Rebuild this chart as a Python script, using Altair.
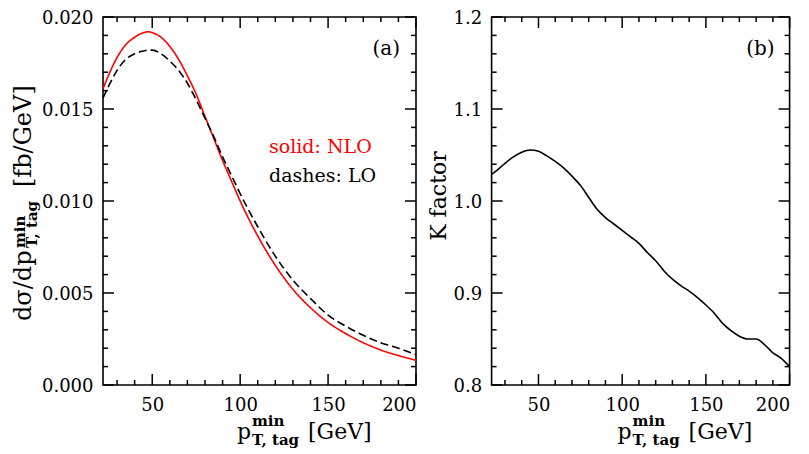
import altair as alt
import pandas as pd

# ---------------- data ----------------
pt = [22, 25, 30, 35, 40, 45, 48, 50, 55, 60, 65, 70, 75, 80, 85, 90, 95, 100,
      110, 120, 130, 140, 150, 160, 170, 180, 190, 200]
nlo = [0.0161, 0.0168, 0.0178, 0.0185, 0.0189, 0.01915, 0.0192, 0.01915, 0.0189,
       0.0184, 0.0177, 0.0168, 0.0158, 0.0146, 0.0134, 0.0122, 0.0111, 0.0100,
       0.0081, 0.0065, 0.0052, 0.0042, 0.0034, 0.0028, 0.0023, 0.0019, 0.0016, 0.00135]
lo = [0.0156, 0.0162, 0.0171, 0.0177, 0.0180, 0.01815, 0.0182, 0.0182, 0.0180,
      0.0176, 0.0171, 0.0164, 0.0155, 0.0145, 0.0135, 0.0124, 0.0114, 0.0104,
      0.0086, 0.0070, 0.0057, 0.0047, 0.0038, 0.0032, 0.0027, 0.0023, 0.0020, 0.00165]

k_pt = [22, 25, 30, 35, 40, 45, 50, 55, 60, 65, 70, 75, 80, 85, 90, 95, 100, 105,
        110, 115, 120, 125, 130, 135, 140, 145, 150, 155, 160, 165, 170, 175, 180,
        185, 190, 195, 200]
k_val = [1.029, 1.033, 1.041, 1.048, 1.053, 1.0555, 1.054, 1.049, 1.043, 1.036,
         1.027, 1.017, 1.004, 0.991, 0.982, 0.975, 0.968, 0.961, 0.954, 0.944,
         0.935, 0.924, 0.915, 0.908, 0.902, 0.895, 0.887, 0.878, 0.867, 0.859,
         0.853, 0.850, 0.850, 0.844, 0.835, 0.829, 0.820]

x_major = [50, 100, 150, 200]
x_minor = [30, 40, 60, 70, 80, 90, 110, 120, 130, 140, 160, 170, 180, 190]
ya_major = [0.0, 0.005, 0.010, 0.015, 0.020]
ya_minor = [0.001, 0.002, 0.003, 0.004, 0.006, 0.007, 0.008, 0.009,
            0.011, 0.012, 0.013, 0.014, 0.016, 0.017, 0.018, 0.019]
yb_major = [0.8, 0.9, 1.0, 1.1, 1.2]
yb_minor = [0.82, 0.84, 0.86, 0.88, 0.92, 0.94, 0.96, 0.98,
            1.02, 1.04, 1.06, 1.08, 1.12, 1.14, 1.16, 1.18]

series_names = ["solid: NLO", "dashes: LO"]

FONT = "DejaVu Serif"
H = 368
WA = 313
WB = 298
MAJ = 11
MIN = 5
TW = 1.5

df_a = pd.DataFrame({
    "x": pt * 2,
    "y": nlo + lo,
    "s": ["NLO"] * len(pt) + ["LO"] * len(pt),
})
df_b = pd.DataFrame({"x": k_pt, "y": k_val})

xaxis = alt.Axis(values=x_major, format="d", title=None, ticks=False,
                 domain=False, grid=False, labelFont=FONT, labelFontSize=18,
                 labelPadding=11, labelColor="black")


def yaxis(vals, fmt):
    return alt.Axis(values=vals, format=fmt, title=None, ticks=False,
                    domain=False, grid=False, labelFont=FONT, labelFontSize=18,
                    labelPadding=10, labelColor="black",
                    labelBaseline="alphabetic", labelOffset=6.5)


def ticks(xscale, yscale, yax, ymaj, ymin, W):
    layers = []
    for vals, L in ((x_major, MAJ), (x_minor, MIN)):
        d = pd.DataFrame({"x": vals})
        base = alt.Chart(d).mark_rule(color="black", strokeWidth=TW)
        layers.append(base.encode(x=alt.X("x:Q", scale=xscale, axis=xaxis),
                                  y=alt.value(H), y2=alt.value(H - L)))
        layers.append(base.encode(x=alt.X("x:Q", scale=xscale, axis=xaxis),
                                  y=alt.value(0), y2=alt.value(L)))
    for vals, L in ((ymaj, MAJ), (ymin, MIN)):
        d = pd.DataFrame({"y": vals})
        base = alt.Chart(d).mark_rule(color="black", strokeWidth=TW)
        layers.append(base.encode(y=alt.Y("y:Q", scale=yscale, axis=yax),
                                  x=alt.value(0), x2=alt.value(L)))
        layers.append(base.encode(y=alt.Y("y:Q", scale=yscale, axis=yax),
                                  x=alt.value(W), x2=alt.value(W - L)))
    return layers


def label(text, x, y, size=22, color="black", align="left", angle=0,
          weight="normal"):
    d = pd.DataFrame({"t": [text]})
    return alt.Chart(d).mark_text(
        font=FONT, fontSize=size, color=color, align=align,
        baseline="alphabetic", angle=angle, fontWeight=weight,
    ).encode(text="t:N", x=alt.value(x), y=alt.value(y))


def xtitle(x0):
    return [
        label("p", x0, H + 54, size=22),
        label("min", x0 + 15, H + 41, size=15, weight="bold"),
        label("T, tag", x0 + 15, H + 59.5, size=15, weight="bold"),
        label("[GeV]", x0 + 71, H + 54, size=22),
    ]


# ---------------- panel (a) ----------------
xs = alt.Scale(domain=[22, 200], nice=False, zero=False)
ysa = alt.Scale(domain=[0, 0.02], nice=False, zero=False)
yax_a = yaxis(ya_major, ".3f")

lines_a = alt.Chart(df_a).mark_line(strokeWidth=1.6, interpolate="monotone").encode(
    x=alt.X("x:Q", scale=xs, axis=xaxis),
    y=alt.Y("y:Q", scale=ysa, axis=yax_a),
    color=alt.Color("s:N", scale=alt.Scale(domain=["NLO", "LO"], range=["#ff0000", "black"]), legend=None),
    strokeDash=alt.StrokeDash("s:N", scale=alt.Scale(domain=["NLO", "LO"], range=[[1, 0], [8, 4]]), legend=None),
)

ytitle_a = [
    label("d\u03c3/dp", -71.7, 304, size=24, angle=270),
    label("min", -78.5, 231, size=15, angle=270, weight="bold"),
    label("T, tag", -66.2, 231, size=15, angle=270, weight="bold"),
    label("[fb/GeV]", -71.7, 170, size=24, angle=270),
]

panel_a = alt.layer(
    lines_a,
    *ticks(xs, ysa, yax_a, ya_major, ya_minor, WA),
    label("(a)", 297, 38, size=20, align="right"),
    label(series_names[0], 166, 136, size=19, color="#ff0000"),
    label(series_names[1], 166, 165, size=19),
    *xtitle(134),
    *ytitle_a,
).properties(width=WA, height=H)

# ---------------- panel (b) ----------------
ysb = alt.Scale(domain=[0.8, 1.2], nice=False, zero=False)
yax_b = yaxis(yb_major, ".1f")
line_b = alt.Chart(df_b).mark_line(strokeWidth=1.6, color="black", interpolate="monotone").encode(
    x=alt.X("x:Q", scale=xs, axis=xaxis),
    y=alt.Y("y:Q", scale=ysb, axis=yax_b),
)

panel_b = alt.layer(
    line_b,
    *ticks(xs, ysb, yax_b, yb_major, yb_minor, WB),
    label("(b)", 283, 38, size=20, align="right"),
    label("K factor", -46, 179, size=22, angle=270, align="center"),
    *xtitle(126),
).properties(width=WB, height=H)

chart = alt.hconcat(panel_a, panel_b, spacing=75.6, bounds="flush").resolve_scale(
    x="independent", y="independent"
).properties(padding={"left": 3, "top": 0, "right": 0, "bottom": 0}).configure_view(
    stroke="black", strokeWidth=1.6
)

chart.save("out.html", embed_options={"renderer": "svg", "actions": False})
